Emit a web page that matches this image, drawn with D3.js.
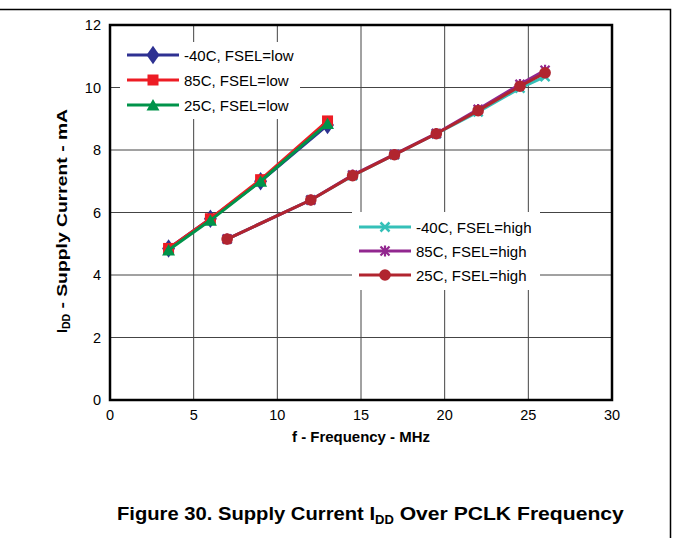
<!DOCTYPE html>
<head>
<meta charset="utf-8">
<style>
  body { margin: 0; background: #fff; }
  text { font-family: "Liberation Sans", Arial, sans-serif; }
</style>
<script src="https://d3js.org/d3.v7.min.js"></script>
</head>
<body>
<script>
// data
var freqLow = [3.5, 6, 9, 13];
var freqHigh = [7, 12, 14.5, 17, 19.5, 22, 24.5, 26];

var lowM40 = [4.85, 5.8, 7.0, 8.8];
var low85 = [4.85, 5.8, 7.05, 8.93];
var low25 = [4.8, 5.75, 7.0, 8.85];

var highM40 = [5.15, 6.4, 7.18, 7.85, 8.52, 9.22, 9.98, 10.35];
var high85 = [5.15, 6.4, 7.2, 7.86, 8.53, 9.3, 10.1, 10.55];
var high25 = [5.15, 6.4, 7.18, 7.85, 8.52, 9.26, 10.04, 10.47];

var xTicks = [0, 5, 10, 15, 20, 25, 30];
var yTicks = [0, 2, 4, 6, 8, 10, 12];

var series = [
  {name: "-40C, FSEL=low", x: freqLow, y: lowM40, color: "#2e3192", marker: "diamond"},
  {name: "85C, FSEL=low", x: freqLow, y: low85, color: "#ed1c24", marker: "square"},
  {name: "25C, FSEL=low", x: freqLow, y: low25, color: "#00934a", marker: "triangle"},
  {name: "-40C, FSEL=high", x: freqHigh, y: highM40, color: "#35c0b8", marker: "cross"},
  {name: "85C, FSEL=high", x: freqHigh, y: high85, color: "#92278f", marker: "asterisk"},
  {name: "25C, FSEL=high", x: freqHigh, y: high25, color: "#b1252f", marker: "circle"}
];

var width = 673, height = 538;
var svg = d3.select("body").append("svg").attr("width", width).attr("height", height);

// outer figure border (top and right only)
svg.append("path")
  .attr("d", "M0,9.5H670.5V538")
  .attr("fill", "none").attr("stroke", "#000").attr("stroke-width", 1.5);

var x = d3.scaleLinear().domain([0, 30]).range([110, 612]);
var y = d3.scaleLinear().domain([0, 12]).range([400, 25]);

// grid
svg.append("g").selectAll("line").data(xTicks.slice(1, -1)).enter().append("line")
  .attr("x1", function(d) { return x(d); }).attr("x2", function(d) { return x(d); })
  .attr("y1", y(0)).attr("y2", y(12))
  .attr("stroke", "#444").attr("stroke-width", 1);
svg.append("g").selectAll("line").data(yTicks.slice(1, -1)).enter().append("line")
  .attr("y1", function(d) { return y(d); }).attr("y2", function(d) { return y(d); })
  .attr("x1", x(0)).attr("x2", x(30))
  .attr("stroke", "#444").attr("stroke-width", 1);

// tick labels
svg.append("g").selectAll("text").data(xTicks).enter().append("text")
  .attr("x", function(d) { return x(d); })
  .attr("y", 420)
  .attr("text-anchor", "middle")
  .attr("font-size", "14.5px")
  .text(function(d) { return d; });
svg.append("g").selectAll("text").data(yTicks).enter().append("text")
  .attr("x", 101)
  .attr("y", function(d) { return y(d) + 5; })
  .attr("text-anchor", "end")
  .attr("font-size", "14.5px")
  .text(function(d) { return d; });

// axis titles
svg.append("text")
  .attr("x", 292).attr("y", 442)
  .attr("font-size", "14px").attr("font-weight", "bold")
  .attr("textLength", 138).attr("lengthAdjust", "spacingAndGlyphs")
  .text("f - Frequency - MHz");

var yt = svg.append("text")
  .attr("transform", "translate(67,333) rotate(-90)")
  .attr("font-size", "14px").attr("font-weight", "bold");
yt.append("tspan").text("I");
yt.append("tspan").attr("font-size", "10.5px").attr("dy", 3).text("DD");
yt.append("tspan").attr("dy", -3).attr("textLength", 205).attr("lengthAdjust", "spacingAndGlyphs")
  .text(" - Supply Current - mA");

// caption
var cap = svg.append("text")
  .attr("x", 117).attr("y", 520)
  .attr("font-size", "18.5px").attr("font-weight", "bold");
cap.append("tspan").attr("textLength", 258).attr("lengthAdjust", "spacingAndGlyphs").text("Figure 30. Supply Current I");
cap.append("tspan").attr("font-size", "13px").attr("dy", 4).text("DD");
cap.append("tspan").attr("dy", -4).attr("textLength", 230).attr("lengthAdjust", "spacingAndGlyphs").text(" Over PCLK Frequency");

// markers
function drawMarker(g, type, cx, cy, color) {
  if (type === "diamond") {
    g.append("path").attr("d", d3.symbol(d3.symbolDiamond, 100)())
      .attr("transform", "translate(" + cx + "," + cy + ") scale(1.2,1)")
      .attr("fill", color);
  } else if (type === "square") {
    g.append("rect").attr("x", cx - 5.5).attr("y", cy - 5.5)
      .attr("width", 11).attr("height", 11).attr("fill", color);
  } else if (type === "triangle") {
    g.append("path").attr("d", "M" + cx + "," + (cy - 6) + "L" + (cx + 6.5) + "," + (cy + 5.5) + "L" + (cx - 6.5) + "," + (cy + 5.5) + "Z")
      .attr("fill", color);
  } else if (type === "circle") {
    g.append("circle").attr("cx", cx).attr("cy", cy).attr("r", 5.8).attr("fill", color);
  } else if (type === "cross") {
    g.append("path").attr("d", "M" + (cx - 4.5) + "," + (cy - 4.5) + "L" + (cx + 4.5) + "," + (cy + 4.5) + "M" + (cx + 4.5) + "," + (cy - 4.5) + "L" + (cx - 4.5) + "," + (cy + 4.5))
      .attr("stroke", color).attr("stroke-width", 2.5);
  } else if (type === "asterisk") {
    g.append("path").attr("d", "M" + (cx - 4.5) + "," + (cy - 4.5) + "L" + (cx + 4.5) + "," + (cy + 4.5) + "M" + (cx + 4.5) + "," + (cy - 4.5) + "L" + (cx - 4.5) + "," + (cy + 4.5) + "M" + cx + "," + (cy - 5.5) + "V" + (cy + 5.5))
      .attr("stroke", color).attr("stroke-width", 2.2);
  }
}

var line = d3.line()
  .x(function(d) { return x(d[0]); })
  .y(function(d) { return y(d[1]); });

var plot = svg.append("g");
series.forEach(function(s) {
  var pts = s.x.map(function(v, i) { return [v, s.y[i]]; });
  var g = plot.append("g");
  g.append("path").datum(pts)
    .attr("d", line)
    .attr("fill", "none")
    .attr("stroke", s.color)
    .attr("stroke-width", 3);
  pts.forEach(function(p) { drawMarker(g, s.marker, x(p[0]), y(p[1]), s.color); });
});

// legends (white boxes covering grid)
function legend(items, bx, by, bw, bh, lx0, rowY) {
  var lg = svg.append("g");
  lg.append("rect").attr("x", bx).attr("y", by).attr("width", bw).attr("height", bh).attr("fill", "#fff");
  items.forEach(function(s, i) {
    var yy = rowY[i];
    lg.append("line").attr("x1", lx0).attr("x2", lx0 + 52).attr("y1", yy).attr("y2", yy)
      .attr("stroke", s.color).attr("stroke-width", 3);
    drawMarker(lg, s.marker, lx0 + 26, yy, s.color);
    lg.append("text").attr("x", lx0 + 57).attr("y", yy + 5.5)
      .attr("font-size", "15px").text(s.name);
  });
}
legend(series.slice(0, 3), 120, 42, 180, 77, 127, [55, 80, 105]);
legend(series.slice(3), 352, 212, 188, 78, 359, [227, 251, 275]);

// plot frame
svg.append("rect")
  .attr("x", x(0)).attr("y", y(12))
  .attr("width", x(30) - x(0)).attr("height", y(0) - y(12))
  .attr("fill", "none").attr("stroke", "#000").attr("stroke-width", 2.5);
</script>
</body>
</html>
